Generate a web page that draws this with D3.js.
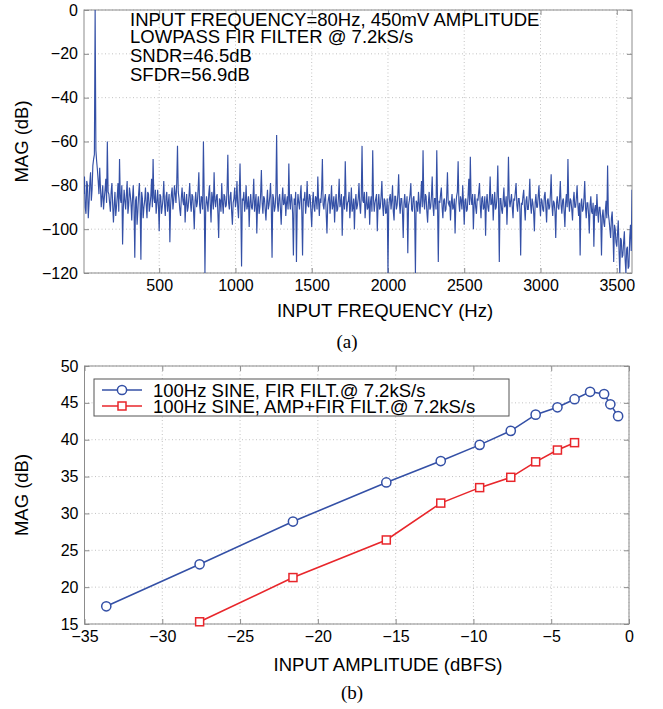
<!DOCTYPE html>
<html>
<head>
<meta charset="utf-8">
<script src="https://cdn.jsdelivr.net/npm/d3@7"></script>
<style>
    body { margin: 0; background: #fff; }
    svg text { font-family: "Liberation Sans", Arial, Helvetica, sans-serif; fill: #000; }
    .grid line { stroke: #c2c2c2; stroke-dasharray: 1,2.5; }
    .frame { fill: none; stroke: #8c8c8c; }
    .axis path { display: none; }
    .axis line { stroke: #8c8c8c; }
</style>
</head>
<body>
<svg id="fig" width="663" height="709"></svg>
<script>
/**
 * Panel (a) data: FFT magnitude (dB), one value per 5 Hz bin, 5..3600 Hz.
 */
const specStartHz = 5, specStepHz = 5;
const specMag = [
    // 5 - 200 Hz
    -84, -76, -90, -93, -78, -80, -95, -88, -79, -74, -87, -82, -71, -68, -66, 0, -64, -69, -73, -78,
    -84, -72, -81, -90, -85, -80, -91, -86, -82, -77, -88, -60, -83, -84, -88, -92, -83, -79, -89, -97,
    // 205 - 400 Hz
    -89, -83, -94, -90, -85, -79, -92, -68, -86, -88, -80, -107, -90, -82, -87, -91, -84, -78, -93, -89,
    -81, -84, -88, -96, -86, -80, -90, -113, -87, -85, -98, -92, -84, -79, -89, -114, -83, -86, -95, -90,
    // 405 - 600 Hz
    -87, -81, -89, -95, -83, -84, -92, -89, -85, -77, -90, -68, -86, -88, -82, -93, -88, -82, -89, -101,
    -84, -85, -93, -90, -86, -78, -89, -94, -85, -83, -92, -88, -84, -106, -89, -84, -81, -91, -87, -80,
    // 605 - 800 Hz
    -84, -88, -79, -62, -83, -86, -91, -94, -86, -81, -87, -89, -83, -97, -88, -84, -92, -90, -85, -79,
    -88, -92, -84, -85, -91, -100, -87, -83, -90, -88, -82, -74, -89, -93, -85, -86, -91, -60, -84, -120,
    // 805 - 1000 Hz
    -90, -85, -88, -92, -84, -80, -89, -97, -83, -86, -91, -74, -87, -90, -85, -84, -93, -104, -86, -87,
    -92, -79, -88, -93, -84, -85, -90, -89, -82, -66, -88, -91, -85, -83, -92, -98, -88, -86, -81, -90,
    // 1005 - 1200 Hz
    -87, -78, -90, -95, -84, -70, -89, -117, -86, -87, -83, -92, -88, -80, -91, -89, -85, -99, -88, -84,
    -90, -91, -86, -77, -92, -88, -84, -102, -89, -85, -93, -90, -84, -73, -88, -93, -85, -86, -91, -96,
    // 1205 - 1400 Hz
    -88, -82, -91, -89, -85, -79, -90, -113, -84, -86, -92, -90, -84, -57, -88, -92, -86, -84, -91, -98,
    -87, -81, -89, -88, -84, -94, -88, -85, -91, -70, -87, -91, -84, -86, -93, -112, -86, -89, -83, -115,
    // 1405 - 1600 Hz
    -90, -84, -88, -91, -85, -80, -92, -112, -86, -87, -83, -93, -88, -78, -89, -90, -84, -85, -92, -99,
    -88, -83, -90, -92, -85, -86, -91, -76, -87, -94, -86, -88, -82, -68, -89, -91, -86, -84, -93, -102,
    // 1605 - 1800 Hz
    -89, -86, -84, -93, -88, -80, -91, -89, -85, -97, -88, -84, -92, -91, -86, -77, -90, -88, -84, -103,
    -89, -85, -91, -69, -86, -92, -88, -87, -83, -95, -89, -81, -92, -90, -86, -100, -88, -84, -91, -89,
    // 1805 - 2000 Hz
    -86, -79, -89, -93, -85, -62, -87, -88, -83, -95, -89, -83, -91, -90, -85, -98, -88, -85, -92, -64,
    -86, -92, -88, -86, -84, -101, -89, -84, -91, -90, -85, -78, -89, -94, -86, -87, -93, -92, -86, -120,
    // 2005 - 2200 Hz
    -90, -86, -84, -91, -87, -80, -92, -96, -85, -85, -91, -89, -84, -75, -88, -93, -86, -86, -92, -104,
    -88, -84, -90, -90, -85, -111, -89, -87, -84, -79, -91, -92, -86, -85, -93, -120, -87, -88, -92, -83,
    // 2205 - 2400 Hz
    -88, -93, -86, -78, -90, -64, -87, -91, -84, -85, -92, -97, -88, -83, -91, -90, -85, -76, -89, -94,
    -86, -86, -91, -64, -88, -115, -87, -88, -84, -81, -90, -95, -87, -86, -92, -91, -85, -74, -88, -89,
    // 2405 - 2600 Hz
    -87, -96, -88, -84, -91, -90, -86, -102, -89, -85, -83, -69, -88, -92, -85, -87, -91, -80, -88, -98,
    -87, -86, -92, -91, -85, -77, -89, -67, -86, -89, -84, -100, -89, -84, -90, -93, -86, -87, -83, -79,
    // 2605 - 2800 Hz
    -89, -95, -86, -85, -91, -90, -85, -103, -88, -84, -90, -92, -86, -76, -89, -88, -84, -96, -88, -83,
    -91, -90, -85, -71, -88, -115, -86, -86, -91, -93, -87, -81, -90, -89, -85, -98, -88, -67, -86, -90,
    // 2805 - 3000 Hz
    -87, -84, -90, -95, -86, -87, -83, -79, -89, -92, -86, -86, -91, -112, -88, -89, -85, -82, -90, -96,
    -87, -85, -91, -91, -86, -77, -89, -93, -86, -88, -92, -101, -88, -84, -90, -90, -85, -80, -89, -94,
    // 3005 - 3200 Hz
    -86, -87, -91, -92, -85, -83, -90, -97, -87, -86, -91, -90, -84, -75, -89, -94, -87, -88, -92, -104,
    -88, -85, -90, -91, -86, -78, -89, -93, -87, -86, -92, -99, -88, -84, -90, -68, -87, -92, -86, -87,
    // 3205 - 3400 Hz
    -91, -96, -87, -83, -90, -90, -86, -80, -89, -94, -88, -112, -89, -86, -92, -91, -86, -78, -90, -95,
    -88, -88, -93, -102, -89, -85, -92, -93, -88, -108, -91, -89, -94, -84, -92, -97, -90, -90, -95, -112,
    // 3405 - 3600 Hz
    -94, -91, -97, -99, -92, -87, -95, -71, -93, -96, -100, -104, -95, -92, -101, -115, -98, -100, -106, -108,
    -102, -96, -110, -120, -104, -105, -113, -112, -106, -101, -114, -120, -109, -108, -118, -117, -104, -98, -110, -82
];
const specXTicks = [500, 1000, 1500, 2000, 2500, 3000, 3500];
const specYTicks = [0, -20, -40, -60, -80, -100, -120];
const specNotes = [
    'INPUT FREQUENCY=80Hz, 450mV AMPLITUDE',
    'LOWPASS FIR FILTER @ 7.2kS/s',
    'SNDR=46.5dB',
    'SFDR=56.9dB'
];

/**
 * Panel (b) data: SNDR versus input amplitude.
 */
const ampFir = [-33.6, -27.6, -21.6, -15.6, -12.1, -9.6, -7.6, -6.0, -4.6, -3.5, -2.5, -1.6, -1.2, -0.7];
const magFir = [17.4, 23.1, 28.9, 34.2, 37.1, 39.3, 41.2, 43.4, 44.4, 45.5, 46.5, 46.2, 44.8, 43.2];
const ampAmpFir = [-27.6, -21.6, -15.6, -12.1, -9.6, -7.6, -6.0, -4.6, -3.5];
const magAmpFir = [15.3, 21.3, 26.4, 31.4, 33.5, 34.9, 37.0, 38.6, 39.6];
const ampXTicks = [-35, -30, -25, -20, -15, -10, -5, 0];
const ampYTicks = [15, 20, 25, 30, 35, 40, 45, 50];
const seriesNames = [
    '100Hz SINE, FIR FILT.@ 7.2kS/s',
    '100Hz SINE, AMP+FIR FILT.@ 7.2kS/s'
];

/**
 * Visual configs.
 */
const blue = '#3450a6', red = '#e8262b';
const tickFont = 16, titleFont = 18.5;
const svg = d3.select('#fig');

/**
 * Draws the frame, grid, inward ticks and labels of one panel.
 */
function drawAxes(g, x, y, xTicks, yTicks, o) {
    const [x0, x1] = x.range(), [y0, y1] = y.range();

    const grid = g.append('g').attr('class', 'grid');
    grid.selectAll('line.gx').data(xTicks).enter().append('line')
        .attr('x1', d => x(d)).attr('x2', d => x(d)).attr('y1', y0).attr('y2', y1);
    grid.selectAll('line.gy').data(yTicks).enter().append('line')
        .attr('x1', x0).attr('x2', x1).attr('y1', d => y(d)).attr('y2', d => y(d));

    const style = sel => sel.selectAll('text')
        .attr('font-size', tickFont).attr('font-family', null)
        .text(d => String(d).replace('-', '\u2212'));

    g.append('g').attr('class', 'axis').attr('transform', 'translate(0,' + y0 + ')')
        .call(d3.axisBottom(x).tickValues(xTicks).tickSizeInner(-5).tickSizeOuter(0).tickPadding(o.xPad))
        .call(style);
    g.append('g').attr('class', 'axis').attr('transform', 'translate(0,' + y1 + ')')
        .call(d3.axisTop(x).tickValues(xTicks).tickSizeInner(-5).tickSizeOuter(0).tickFormat(''));
    g.append('g').attr('class', 'axis').attr('transform', 'translate(' + x0 + ',0)')
        .call(d3.axisLeft(y).tickValues(yTicks).tickSizeInner(-5).tickSizeOuter(0).tickPadding(6))
        .call(style);
    g.append('g').attr('class', 'axis').attr('transform', 'translate(' + x1 + ',0)')
        .call(d3.axisRight(y).tickValues(yTicks).tickSizeInner(-5).tickSizeOuter(0).tickFormat(''));

    g.append('rect').attr('class', 'frame')
        .attr('x', x0).attr('y', y1).attr('width', x1 - x0).attr('height', y0 - y1);

    // Axis titles and panel caption
    g.append('text').attr('x', o.xTitleX).attr('y', y0 + o.xTitleDy)
        .attr('text-anchor', 'middle').attr('font-size', titleFont).text(o.xTitle);
    g.append('text').attr('transform', 'translate(28,' + (y0 + y1) / 2 + ') rotate(-90)')
        .attr('text-anchor', 'middle').attr('font-size', titleFont).text('MAG (dB)');
    g.append('text').attr('x', o.capX).attr('y', y0 + o.capDy)
        .attr('text-anchor', 'middle').attr('font-size', 19)
        .style('font-family', '"Liberation Serif", "Times New Roman", serif').text(o.caption);
}

/**
 * Panel (a): spectrum.
 */
(function() {
    const x = d3.scaleLinear().domain([7, 3600]).range([84, 632]),
        y = d3.scaleLinear().domain([-120, 0]).range([273, 10]);
    const g = svg.append('g').attr('class', 'panel-a');

    drawAxes(g, x, y, specXTicks, specYTicks, {
        xPad: 7, xTitle: 'INPUT FREQUENCY (Hz)', xTitleX: 385, xTitleDy: 44,
        caption: '(a)', capX: 347, capDy: 75
    });

    g.append('clipPath').attr('id', 'clip-a').append('rect')
        .attr('x', 84).attr('y', 10).attr('width', 548).attr('height', 263);

    const line = d3.line()
        .x((d, i) => x(specStartHz + i * specStepHz))
        .y(d => y(d));
    g.append('path').datum(specMag)
        .attr('clip-path', 'url(#clip-a)')
        .attr('fill', 'none').attr('stroke', blue).attr('stroke-width', 1.15)
        .attr('d', line);

    g.selectAll('text.note').data(specNotes).enter().append('text')
        .attr('class', 'note')
        .attr('x', 130).attr('y', (d, i) => [26, 43, 62, 81][i])
        .attr('font-size', titleFont).text(String);
})();

/**
 * Panel (b): magnitude versus amplitude.
 */
(function() {
    const x = d3.scaleLinear().domain([-35, 0]).range([84.5, 629]),
        y = d3.scaleLinear().domain([15, 50]).range([624, 366]);
    const g = svg.append('g').attr('class', 'panel-b');

    drawAxes(g, x, y, ampXTicks, ampYTicks, {
        xPad: 7, xTitle: 'INPUT AMPLITUDE (dBFS)', xTitleX: 388, xTitleDy: 47,
        caption: '(b)', capX: 352, capDy: 75
    });

    const line = d3.line().x(d => x(d[0])).y(d => y(d[1]));
    const fir = d3.zip(ampFir, magFir),
        ampfir = d3.zip(ampAmpFir, magAmpFir);

    g.append('path').datum(fir).attr('fill', 'none').attr('stroke', blue).attr('stroke-width', 1.6).attr('d', line);
    g.append('path').datum(ampfir).attr('fill', 'none').attr('stroke', red).attr('stroke-width', 1.6).attr('d', line);

    g.selectAll('circle.m').data(fir).enter().append('circle')
        .attr('cx', d => x(d[0])).attr('cy', d => y(d[1])).attr('r', 4.6)
        .attr('fill', '#fff').attr('stroke', blue).attr('stroke-width', 1.5);
    g.selectAll('rect.m').data(ampfir).enter().append('rect')
        .attr('x', d => x(d[0]) - 4).attr('y', d => y(d[1]) - 4).attr('width', 8).attr('height', 8)
        .attr('fill', '#fff').attr('stroke', red).attr('stroke-width', 1.5);

    // Legend
    const legend = g.append('g').attr('class', 'legend');
    legend.append('rect').attr('x', 94).attr('y', 379).attr('width', 415).attr('height', 37)
        .attr('fill', '#fff').attr('stroke', '#555').attr('stroke-width', 1);
    const rows = legend.selectAll('g.row').data(seriesNames).enter().append('g')
        .attr('transform', (d, i) => 'translate(0,' + (390 + i * 16) + ')');
    rows.append('line').attr('x1', 102).attr('x2', 142).attr('y1', 0).attr('y2', 0)
        .attr('stroke', (d, i) => i ? red : blue).attr('stroke-width', 1.6);
    rows.filter((d, i) => i === 0).append('circle').attr('cx', 122).attr('cy', 0).attr('r', 4.6)
        .attr('fill', '#fff').attr('stroke', blue).attr('stroke-width', 1.5);
    rows.filter((d, i) => i === 1).append('rect').attr('x', 118).attr('y', -4).attr('width', 8).attr('height', 8)
        .attr('fill', '#fff').attr('stroke', red).attr('stroke-width', 1.5);
    rows.append('text').attr('x', 153).attr('y', 6.6).attr('font-size', titleFont).text(String);
})();
</script>
</body>
</html>
